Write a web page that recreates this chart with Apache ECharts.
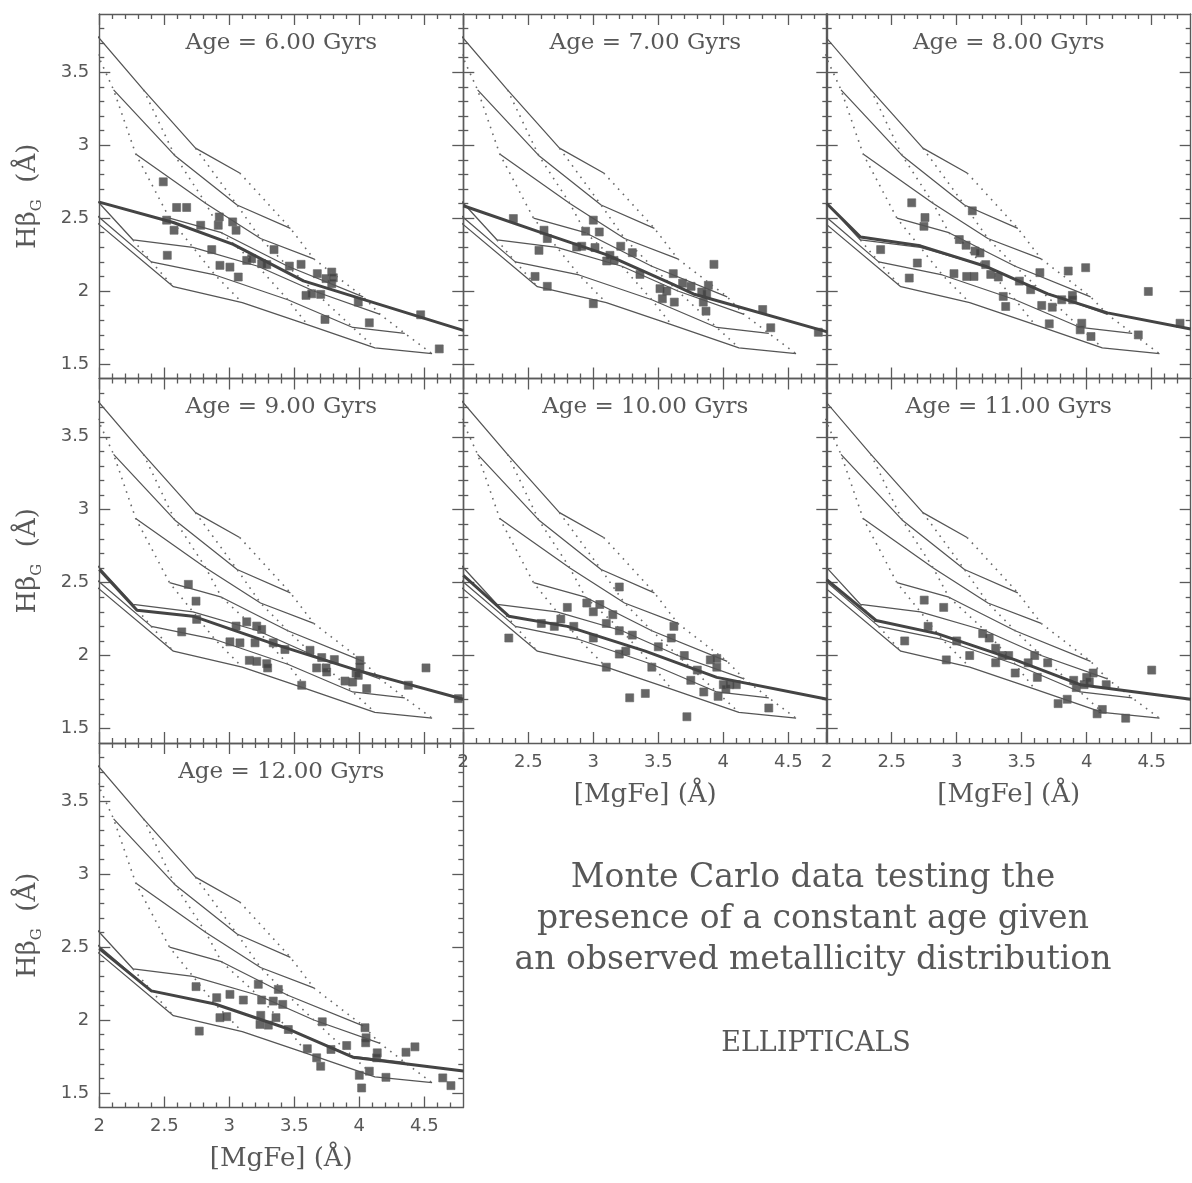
<!DOCTYPE html>
<html><head><meta charset="utf-8">
<script src="https://cdn.jsdelivr.net/npm/echarts@6/dist/echarts.min.js"></script>
<style>html,body{margin:0;padding:0;background:#fff}#c{width:1192px;height:1183px}</style>
</head><body><div id="c"></div>
<script>
// ---------- tick labels ----------
const xMajorTicks = [2, 2.5, 3, 3.5, 4, 4.5];
const yMajorTicks = [1.5, 2, 2.5, 3, 3.5];
const xRange = [2, 4.8];
const yRange = [1.4, 3.9];

// ---------- panel titles ----------
const panelAges = ['6.00', '7.00', '8.00', '9.00', '10.00', '11.00', '12.00'];

// ---------- model grid: iso-age lines, vertices at metallicity steps ----------
const isoAge1p5 = [null, null, [1.85, 3.89], [2.34, 3.38], [2.74, 2.98], [3.08, 2.81]];
const isoAge2   = [null, null, [2.11, 3.38], [2.58, 2.93], [3.06, 2.59], [3.47, 2.43]];
const isoAge3   = [null, null, [2.28, 2.94], [2.82, 2.60], [3.24, 2.36], [3.65, 2.22]];
const isoAge5   = [null, null, [2.54, 2.50], [2.94, 2.40], [3.45, 2.17], [4.03, 1.96]];
const isoAge8   = [[1.90, 2.70], [2.26, 2.35], [2.72, 2.30], [3.22, 2.17], [3.65, 2.00], [4.16, 1.84]];
const isoAge12  = [[1.90, 2.58], [2.40, 2.20], [2.89, 2.11], [3.45, 1.94], [3.95, 1.75], [4.35, 1.71]];
const isoAge17  = [[1.90, 2.53], [2.57, 2.03], [3.10, 1.92], [3.60, 1.77], [4.12, 1.61], [4.56, 1.57]];

// ---------- thick constant-age lines, one per panel ----------
const thick6  = [[2.0, 2.61], [2.57, 2.47], [3.03, 2.32], [3.57, 2.07], [4.8, 1.73]];
const thick7  = [[2.0, 2.585], [2.6, 2.40], [3.1, 2.25], [3.6, 2.05], [3.77, 1.98], [4.8, 1.72]];
const thick8  = [[2.0, 2.60], [2.26, 2.37], [2.72, 2.31], [3.22, 2.17], [3.7, 1.98], [4.16, 1.85], [4.8, 1.74]];
const thick9  = [[2.0, 2.59], [2.29, 2.31], [2.72, 2.27], [3.34, 2.08], [3.98, 1.90], [4.8, 1.70]];
const thick10 = [[2.0, 2.55], [2.35, 2.27], [2.8, 2.20], [3.4, 2.03], [3.95, 1.85], [4.8, 1.70]];
const thick11 = [[2.0, 2.52], [2.38, 2.24], [2.85, 2.15], [3.45, 1.97], [3.95, 1.80], [4.8, 1.70]];
const thick12 = [[2.0, 2.49], [2.40, 2.20], [2.89, 2.11], [3.45, 1.94], [3.95, 1.745], [4.8, 1.65]];

// ---------- Monte Carlo points per panel ----------
const pts6 = [[2.492,2.749],[2.518,2.486],[2.575,2.417],[2.595,2.573],[2.672,2.573],[2.523,2.245],[2.78,2.451],
 [2.865,2.284],[2.923,2.508],[2.915,2.451],[2.928,2.176],[3.005,2.164],[3.026,2.474],[3.052,2.417],[3.069,2.096],
 [3.134,2.21],[3.172,2.222],[3.249,2.188],[3.288,2.181],[3.344,2.284],[3.462,2.171],[3.552,2.183],[3.59,1.97],
 [3.634,1.981],[3.703,1.977],[3.677,2.119],[3.736,1.805],[3.744,2.085],[3.788,2.13],[3.788,2.05],[3.8,2.091],
 [3.992,1.924],[4.077,1.782],[4.472,1.837],[4.615,1.603]];
const pts7 = [[2.385,2.497],[2.621,2.417],[2.646,2.36],[2.582,2.279],[2.552,2.10],[2.646,2.032],[3.0,2.486],
 [2.941,2.41],[3.046,2.405],[3.013,2.298],[2.872,2.302],[2.911,2.307],[3.211,2.307],[3.3,2.263],[3.103,2.206],
 [3.128,2.245],[3.159,2.21],[3.359,2.114],[3.0,1.913],[3.615,2.119],[3.687,2.054],[3.752,2.032],[3.513,2.016],
 [3.565,2.0],[3.531,1.947],[3.623,1.924],[3.834,1.993],[3.885,2.039],[3.872,1.981],[3.846,1.924],[3.867,1.862],
 [3.928,2.183],[4.303,1.873],[4.365,1.748],[4.731,1.717]];
const pts8 = [[2.654,2.605],[2.756,2.504],[2.748,2.444],[3.12,2.55],[2.415,2.284],[2.697,2.192],[2.635,2.089],
 [3.02,2.353],[3.072,2.314],[3.141,2.274],[3.179,2.261],[3.223,2.181],[2.979,2.119],[3.077,2.10],[3.133,2.10],
 [3.262,2.114],[3.32,2.096],[3.482,2.068],[3.569,2.009],[3.358,1.963],[3.377,1.894],[3.654,1.901],[3.735,1.889],
 [3.64,2.126],[3.858,2.137],[3.992,2.16],[3.808,1.94],[3.89,1.97],[3.892,1.94],[3.962,1.779],[3.95,1.734],
 [4.033,1.688],[4.397,1.699],[4.474,1.997],[4.718,1.779],[3.712,1.775]];
const pts9 = [[2.685,2.488],[2.744,2.373],[2.749,2.248],[2.634,2.162],[3.052,2.202],[3.134,2.231],[3.211,2.202],
 [3.249,2.179],[3.005,2.094],[3.082,2.087],[3.198,2.087],[3.338,2.087],[3.428,2.041],[3.154,1.967],[3.211,1.96],
 [3.288,1.944],[3.295,1.915],[3.621,2.036],[3.711,1.986],[3.808,1.972],[3.672,1.915],[3.744,1.915],[3.749,1.887],
 [3.89,1.825],[3.949,1.818],[3.975,1.88],[4.005,1.967],[4.005,1.922],[3.992,1.864],[4.057,1.773],[3.557,1.796],
 [4.377,1.796],[4.513,1.915],[4.762,1.704]];
const pts10 = [[2.35,2.12],[2.6,2.22],[2.7,2.20],[2.8,2.33],[2.75,2.25],[2.85,2.20],[2.95,2.36],[3.0,2.30],
 [3.05,2.35],[3.0,2.12],[3.2,2.47],[3.15,2.28],[3.1,2.22],[3.2,2.17],[3.25,2.03],[3.2,2.01],[3.3,2.14],[3.1,1.92],
 [3.28,1.71],[3.4,1.74],[3.45,1.92],[3.5,2.06],[3.62,2.20],[3.6,2.12],[3.7,2.0],[3.72,1.58],[3.75,1.83],
 [3.8,1.90],[3.85,1.75],[3.9,1.97],[3.95,1.98],[3.95,1.92],[4.0,1.80],[4.02,1.77],[4.05,1.80],[3.96,1.72],
 [4.1,1.80],[4.35,1.64]];
const pts11 = [[2.6,2.10],[2.75,2.38],[2.78,2.20],[2.9,2.33],[2.92,1.97],[3.0,2.10],[3.1,2.0],[3.2,2.15],
 [3.25,2.12],[3.3,2.05],[3.35,2.0],[3.3,1.95],[3.4,2.0],[3.45,1.88],[3.55,1.95],[3.6,2.0],[3.62,1.85],
 [3.7,1.95],[3.78,1.67],[3.85,1.70],[3.9,1.83],[3.92,1.78],[3.98,1.80],[4.0,1.85],[4.02,1.82],[4.05,1.88],
 [4.08,1.60],[4.12,1.63],[4.3,1.57],[4.5,1.90],[4.15,1.80]];
const pts12 = [[2.744,2.229],[2.769,1.924],[2.903,2.153],[2.928,2.016],[2.98,2.023],[3.005,2.176],[3.108,2.137],
 [3.223,2.245],[3.249,2.137],[3.242,2.032],[3.236,1.97],[3.3,1.965],[3.338,2.13],[3.377,2.21],[3.411,2.107],
 [3.359,2.016],[3.454,1.935],[3.6,1.803],[3.672,1.741],[3.703,1.683],[3.715,1.988],[3.782,1.798],[3.903,1.825],
 [4.044,1.947],[4.052,1.878],[4.049,1.844],[4.138,1.775],[4.134,1.741],[4.077,1.649],[4.0,1.621],[4.018,1.534],
 [4.205,1.607],[4.359,1.779],[4.428,1.816],[4.642,1.603],[4.705,1.55]];

const thickLines = [thick6, thick7, thick8, thick9, thick10, thick11, thick12];
const pointSets = [pts6, pts7, pts8, pts9, pts10, pts11, pts12];
const isoAges = [isoAge1p5, isoAge2, isoAge3, isoAge5, isoAge8, isoAge12, isoAge17];

// ---------- layout ----------
const colLeft = [99.3, 463.3, 826.7];
const rowTop = [14, 378.5, 743];
const PW = 364, PH = 364.5;
const panelPos = [[0,0],[1,0],[2,0],[0,1],[1,1],[2,1],[0,2]];
const xLabelPanels = [4, 5, 6];

const AX = '#5a5a5a';
const TXT = '#585858';

function steps(a, b, s) { const out = []; for (let v = Math.round(a / s); v <= Math.round(b / s); v++) out.push(+(v * s).toFixed(2)); return out; }
const xMinorTicks = steps(2.1, 4.7, 0.1).filter(v => !xMajorTicks.includes(v));
const yMinorTicks = steps(1.5, 3.8, 0.1).filter(v => !yMajorTicks.includes(v));

const grids = [], xAxes = [], yAxes = [], series = [], graphics = [];

function xAx(gridIndex, position, ticks, len, lineShow, labelOpt, extra) {
  return Object.assign({
    gridIndex, type: 'value', min: xRange[0], max: xRange[1], position,
    splitLine: { show: false },
    axisLine: { show: lineShow, onZero: false, lineStyle: { color: AX, width: 1.4 } },
    axisTick: { show: true, inside: true, length: len, customValues: ticks, lineStyle: { color: AX, width: 1.3 } },
    axisLabel: labelOpt || { show: false }
  }, extra || {});
}
function yAx(gridIndex, position, ticks, len, lineShow, labelOpt, extra) {
  return Object.assign({
    gridIndex, type: 'value', min: yRange[0], max: yRange[1], position,
    splitLine: { show: false },
    axisLine: { show: lineShow, onZero: false, lineStyle: { color: AX, width: 1.4 } },
    axisTick: { show: true, inside: true, length: len, customValues: ticks, lineStyle: { color: AX, width: 1.3 } },
    axisLabel: labelOpt || { show: false }
  }, extra || {});
}

panelPos.forEach(([c, r], gi) => {
  const rect = { left: colLeft[c], top: rowTop[r], width: PW, height: PH, containLabel: false };
  grids.push(Object.assign({}, rect));   // major grid 2*gi
  grids.push(Object.assign({}, rect));   // minor grid 2*gi+1
  const gMaj = 2 * gi, gMin = 2 * gi + 1;
  const showX = xLabelPanels.includes(gi);
  const showY = c === 0;

  xAxes.push(xAx(gMaj, 'bottom', xMajorTicks, 11, true,
    { show: showX, customValues: xMajorTicks, margin: 10, color: TXT, fontFamily: 'DejaVu Sans', fontSize: 18 },
    { name: showX ? '[MgFe] (Å)' : '', nameLocation: 'middle', nameGap: 39,
      nameTextStyle: { color: TXT, fontFamily: 'DejaVu Serif', fontSize: 26, verticalAlign: 'top' } }));
  xAxes.push(xAx(gMaj, 'top', xMajorTicks, 11, true));
  xAxes.push(xAx(gMin, 'bottom', xMinorTicks, 5, false));
  xAxes.push(xAx(gMin, 'top', xMinorTicks, 5, false));

  yAxes.push(yAx(gMaj, 'left', yMajorTicks, 11, true,
    { show: showY, customValues: yMajorTicks, margin: 10, color: TXT, fontFamily: 'DejaVu Sans', fontSize: 18 },
    { name: showY ? '{h|Hβ}{s|G}{h|  (Å)}' : '', nameLocation: 'middle', nameGap: 55, nameRotate: 90,
      nameTextStyle: { color: TXT, rich: {
        h: { fontFamily: 'DejaVu Serif', fontSize: 26, color: TXT, lineHeight: 32 },
        s: { fontFamily: 'DejaVu Serif', fontSize: 15, color: TXT, lineHeight: 32, verticalAlign: 'bottom' }
      } } }));
  yAxes.push(yAx(gMaj, 'right', yMajorTicks, 11, true));
  yAxes.push(yAx(gMin, 'left', yMinorTicks, 5, false));
  yAxes.push(yAx(gMin, 'right', yMinorTicks, 5, false));

  const xi = 4 * gi, yi = 4 * gi;
  // iso-age solid lines
  isoAges.forEach(line => {
    series.push({ type: 'line', xAxisIndex: xi, yAxisIndex: yi, data: line.filter(p => p), symbol: 'none',
      clip: true, silent: true, lineStyle: { color: '#555', width: 1.25 } });
  });
  // iso-metallicity dotted lines (same column across ages)
  const nCols = isoAges[0].length;
  for (let k = 0; k < nCols; k++) {
    const pts = isoAges.map(l => l[k]).filter(p => p);
    if (pts.length < 2) continue;
    series.push({ type: 'line', xAxisIndex: xi, yAxisIndex: yi, data: pts, symbol: 'none',
      clip: true, silent: true, lineStyle: { color: '#6a6a6a', width: 1.6, type: [1.6, 5.5] } });
  }
  // thick constant-age line
  series.push({ type: 'line', xAxisIndex: xi, yAxisIndex: yi, data: thickLines[gi], symbol: 'none',
    clip: true, silent: true, lineStyle: { color: '#444', width: 3 } });
  // Monte Carlo points
  series.push({ type: 'scatter', xAxisIndex: xi, yAxisIndex: yi, data: pointSets[gi], symbol: 'rect',
    symbolSize: 8, clip: true, silent: true, itemStyle: { color: '#404040', borderColor: '#666', borderWidth: 0.8 } });

  graphics.push({ type: 'text', x: colLeft[c] + PW / 2, y: rowTop[r] + 29,
    style: { text: 'Age = ' + panelAges[gi] + ' Gyrs', fill: TXT, font: '23px "DejaVu Serif"',
      textAlign: 'center', textVerticalAlign: 'middle' } });
});

// annotation text block
const noteLines = ['Monte Carlo data testing the', 'presence of a constant age given', 'an observed metallicity distribution'];
const noteY = [878, 919, 960];
noteLines.forEach((t, i) => graphics.push({ type: 'text', x: 813, y: noteY[i],
  style: { text: t, fill: TXT, font: '33px "DejaVu Serif"', textAlign: 'center', textVerticalAlign: 'middle' } }));
graphics.push({ type: 'text', x: 816, y: 1044,
  style: { text: 'ELLIPTICALS', fill: TXT, font: '27px "DejaVu Serif"', textAlign: 'center', textVerticalAlign: 'middle' } });

const chart = echarts.init(document.getElementById('c'), null, { renderer: 'canvas' });
chart.setOption({
  backgroundColor: '#ffffff',
  animation: false,
  grid: grids,
  xAxis: xAxes,
  yAxis: yAxes,
  series: series,
  graphic: graphics
});
</script></body></html>
